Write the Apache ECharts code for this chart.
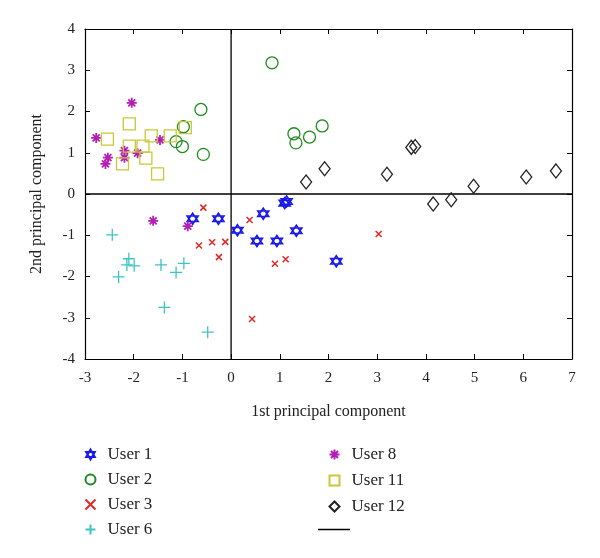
<!DOCTYPE html>
<html><head><meta charset="utf-8">
<script src="https://cdn.jsdelivr.net/npm/echarts@6/dist/echarts.min.js"></script>
<style>html,body{margin:0;padding:0;background:#fff}#c{width:600px;height:558px}</style>
</head><body><div id="c"></div>
<script>
var xTicks = [-3,-2,-1,0,1,2,3,4,5,6,7];
var yTicks = [-4,-3,-2,-1,0,1,2,3,4];
var user1 = [[-0.79,-0.60],[-0.26,-0.60],[0.13,-0.88],[0.66,-0.48],[1.10,-0.22],[1.14,-0.18],[0.53,-1.14],[0.94,-1.14],[1.34,-0.89],[2.16,-1.63]];
var user2 = [[-1.13,1.27],[-1.00,1.15],[-0.98,1.63],[-0.62,2.05],[-0.57,0.96],[0.84,3.18],[1.29,1.46],[1.33,1.24],[1.61,1.38],[1.87,1.65]];
var user3 = [[-0.57,-0.33],[-0.66,-1.25],[-0.39,-1.17],[-0.12,-1.16],[-0.25,-1.53],[0.38,-0.63],[0.90,-1.69],[1.12,-1.58],[3.03,-0.97],[0.43,-3.03]];
var user6 = [[-2.44,-0.99],[-2.31,-2.01],[-2.10,-1.57],[-2.14,-1.72],[-1.99,-1.74],[-1.44,-1.72],[-1.13,-1.90],[-0.97,-1.68],[-1.37,-2.75],[-0.48,-3.35]];
var user8 = [[-2.04,2.21],[-2.77,1.36],[-2.53,0.88],[-2.58,0.73],[-2.19,1.05],[-2.19,0.88],[-1.92,0.99],[-1.46,1.31],[-1.60,-0.65],[-0.89,-0.78]];
var user11 = [[-2.54,1.33],[-2.09,1.70],[-2.09,1.16],[-2.23,0.73],[-1.81,1.16],[-1.75,0.87],[-1.64,1.41],[-1.51,0.49],[-1.25,1.41],[-0.94,1.61]];
var user12 = [[1.54,0.29],[1.92,0.61],[3.20,0.48],[3.70,1.13],[3.78,1.15],[4.15,-0.24],[4.52,-0.14],[4.98,0.19],[6.06,0.41],[6.67,0.56]];
var zeroLines = [[-3,0],[7,0],'-',[0,-4],[0,4]];

var FONT = 'Liberation Serif';
var HEX = 'path://M0,-1L0.866,0.5L-0.866,0.5ZM0,1L0.866,-0.5L-0.866,-0.5Z';
var PLUS = 'path://M0,-1L0,1M-1,0L1,0';
var CROSS = 'path://M-1,-1L1,1M-1,1L1,-1';
var AST = 'path://M0,-1L0,1M-1,0L1,0M-0.7,-0.7L0.7,0.7M-0.7,0.7L0.7,-0.7';

function sc(name, data, sym, size, col, bw){
  return {name:name, type:'scatter', data:data, symbol:sym, symbolSize:size,
    itemStyle:{color:'none', borderColor:col, borderWidth:bw||1.3, opacity:1},
    emphasis:{disabled:true}, z:3};
}
var chart = echarts.init(document.getElementById('c'), null, {renderer:'canvas'});
var axisCommon = {type:'value', interval:1,
  axisLine:{show:true, onZero:false, lineStyle:{color:'#000', width:1.2}},
  axisTick:{show:true, inside:true, length:5, lineStyle:{color:'#000'}},
  splitLine:{show:false}};
var legText = {fontFamily:FONT, fontSize:17, color:'#222', padding:[0,0,0,7]};
chart.setOption({
  animation:false,
  grid:{left:85, top:29, width:487, height:330},
  xAxis:[
    Object.assign({}, axisCommon, {min:-3, max:7, position:'bottom',
      axisLabel:{fontFamily:FONT, fontSize:15, color:'#222', margin:12},
      name:'1st principal component', nameLocation:'middle', nameGap:45,
      nameTextStyle:{fontFamily:FONT, fontSize:16, color:'#222'}}),
    Object.assign({}, axisCommon, {min:-3, max:7, position:'top', axisLabel:{show:false}})
  ],
  yAxis:[
    Object.assign({}, axisCommon, {min:-4, max:4, position:'left',
      axisLabel:{fontFamily:FONT, fontSize:15, color:'#222', margin:10},
      name:'2nd principal component', nameLocation:'middle', nameGap:40,
      nameTextStyle:{fontFamily:FONT, fontSize:16, color:'#222'}}),
    Object.assign({}, axisCommon, {min:-4, max:4, position:'right', axisLabel:{show:false}})
  ],
  legend:[
    {data:['User 1','User 2','User 3','User 6'], orient:'vertical', left:78, top:441, height:120,
     itemWidth:10, itemHeight:10, itemGap:8, textStyle:legText},
    {data:['User 8','User 11','User 12'], orient:'vertical', left:322, top:441, height:120,
     itemWidth:10, itemHeight:10, itemGap:9, textStyle:legText},
    {data:[{name:' ', icon:'rect'}], orient:'vertical', left:313, top:516, height:30,
     itemWidth:32, itemHeight:1.5, textStyle:legText}
  ],
  series:[
    {name:' ', type:'line', data:zeroLines, symbol:'none', showSymbol:false,
     lineStyle:{color:'#000', width:1.3}, itemStyle:{color:'#000'}, z:1, silent:true},
    sc('User 1', user1, HEX, 11, '#1a1ae8', 1.6),
    sc('User 2', user2, 'circle', 12, '#1f8a1f', 1.3),
    sc('User 3', user3, CROSS, 6, '#e02828', 1.5),
    sc('User 6', user6, PLUS, 12, '#3cc4c4', 1.3),
    sc('User 8', user8, AST, 10, '#b41eb4', 1.8),
    sc('User 11', user11, 'rect', 12, '#c8c83a', 1.3),
    sc('User 12', user12, 'diamond', [11,14], '#222', 1.3)
  ]
});
</script></body></html>
